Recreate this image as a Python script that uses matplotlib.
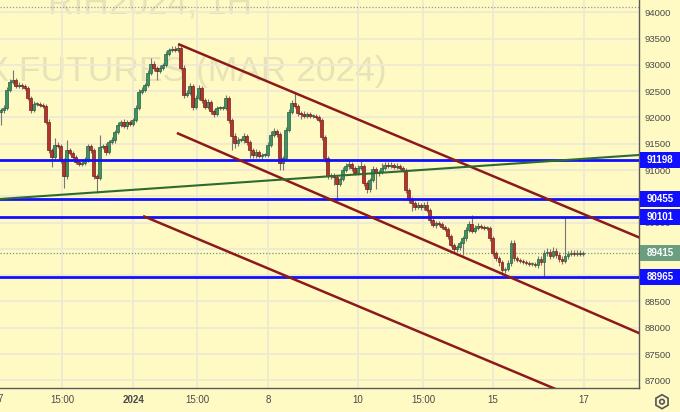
import numpy as np
import matplotlib
matplotlib.use("Agg")
import matplotlib.pyplot as plt
from matplotlib.patches import Rectangle, RegularPolygon, Circle
from matplotlib.transforms import blended_transform_factory, IdentityTransform

# hourly closes, 15 bars per trading day (Dec 27 .. Jan 16)
closes = [
    92142, 92180, 92522, 92674, 92712, 92598, 92617, 92598, 92560, 92370, 92142, 92256, 92256, 92237, 92218,
    91914, 91381, 91248, 91476, 91457, 91191, 90886, 91381, 91324, 91248, 91153, 91115, 91134, 91191, 91457,
    91381, 90886, 90848, 91438, 91457, 91343, 91533, 91571, 91723, 91857, 91914, 91838, 91914, 91876, 91952,
    92180, 92484, 92522, 92617, 92846, 93017, 92941, 92884, 92941, 92998, 93207, 93283, 93302, 93283, 93321,
    92941, 92427, 92465, 92598, 92199, 92370, 92560, 92332, 92199, 92294, 92123, 92066, 92180, 92180, 92180,
    92370, 91952, 91647, 91514, 91571, 91571, 91647, 91533, 91381, 91286, 91343, 91267, 91286, 91286, 91476,
    91666, 91742, 91685, 91134, 91229, 91761, 92104, 92275, 92218, 92085, 92066, 92028, 92066, 92028, 92028,
    92009, 91952, 91628, 91229, 90886, 90905, 90867, 90734, 90829, 91001, 91077, 91115, 91039, 90944, 91039,
    91077, 90753, 90639, 90810, 91020, 90944, 90963, 91039, 91096, 91077, 91096, 91058, 91077, 91039, 91001,
    90620, 90430, 90373, 90297, 90335, 90297, 90335, 90240, 90050, 89955, 89993, 89974, 89917, 89878, 89745,
    89574, 89498, 89536, 89612, 89707, 89859, 89974, 89840, 89897, 89935, 89917, 89897, 89897, 89707, 89422,
    89327, 89251, 89099, 89118, 89232, 89612, 89327, 89289, 89270, 89251, 89232, 89213, 89213, 89194, 89308,
    89251, 89422, 89441, 89365, 89460, 89384, 89308, 89270, 89365, 89403, 89422, 89403, 89422, 89403, 89415,
]
first_open = 92100

upper_wick = [
    40, 60, 50, 60, 200, 40, 50, 40, 30, 40, 40, 50, 30, 40, 30,
    40, 50, 40, 133, 60, 40, 40, 190, 40, 30, 40, 30, 40, 60, 40,
    40, 40, 40, 228, 40, 60, 40, 50, 40, 60, 40, 50, 40, 40, 40,
    50, 60, 60, 40, 50, 114, 60, 40, 50, 40, 60, 40, 60, 50, 76,
    40, 60, 50, 60, 40, 50, 60, 40, 40, 60, 40, 30, 40, 30, 40,
    60, 40, 40, 50, 60, 40, 50, 40, 40, 40, 50, 40, 30, 40, 60,
    80, 60, 40, 40, 40, 60, 50, 60, 209, 40, 40, 50, 40, 40, 40,
    40, 40, 40, 40, 40, 40, 40, 40, 40, 60, 60, 76, 40, 40, 60,
    114, 40, 40, 40, 60, 40, 40, 100, 60, 50, 60, 40, 60, 40, 40,
    40, 40, 60, 40, 60, 40, 60, 80, 40, 50, 40, 40, 40, 40, 40,
    40, 40, 40, 40, 40, 60, 60, 171, 60, 50, 40, 40, 40, 40, 40,
    40, 40, 40, 40, 60, 60, 60, 40, 40, 40, 30, 40, 30, 40, 60,
    60, 60, 80, 60, 70, 60, 60, 60, 742, 60, 60, 50, 60, 50, 40,
]
lower_wick = [
    243, 60, 40, 40, 40, 40, 40, 50, 40, 40, 60, 40, 40, 30, 40,
    40, 60, 190, 60, 40, 60, 228, 60, 40, 40, 40, 40, 40, 40, 40,
    60, 60, 285, 40, 40, 60, 40, 40, 60, 40, 40, 40, 60, 40, 40,
    40, 40, 40, 40, 40, 40, 60, 172, 40, 40, 40, 40, 40, 40, 40,
    40, 60, 40, 40, 57, 40, 40, 60, 40, 40, 60, 60, 40, 40, 40,
    40, 60, 266, 100, 60, 40, 60, 60, 150, 60, 60, 40, 60, 40, 40,
    40, 40, 60, 133, 133, 40, 40, 40, 40, 60, 100, 40, 40, 40, 40,
    40, 40, 60, 80, 60, 60, 150, 300, 40, 40, 40, 60, 60, 40, 40,
    40, 60, 76, 60, 40, 300, 60, 40, 40, 40, 40, 40, 40, 40, 40,
    60, 60, 150, 60, 40, 60, 60, 40, 60, 40, 60, 40, 40, 40, 60,
    40, 57, 60, 60, 228, 60, 40, 40, 40, 40, 40, 40, 40, 60, 60,
    60, 80, 95, 60, 40, 60, 60, 40, 40, 40, 40, 40, 40, 40, 60,
    60, 286, 60, 60, 40, 60, 60, 60, 40, 60, 40, 40, 40, 40, 40,
]

levels = [91198, 90455, 90101, 88965]
last_price = 89415
top_dotted = 94100

# trend lines as (bar, price) anchor pairs
channel_top = [(59.2, 93397), (212.5, 89726)]
channel_mid = [(58.8, 91704), (212.5, 87906)]
channel_low = [(47.5, 90126), (184.2, 86854)]
support_line = [(-0.2, 90449), (212.8, 91286)]

tick_bars = [20.5, 44.2, 65.5, 89.2, 119.2, 140.8, 164.2, 194.5]
tick_labels = ["15:00", "2024", "15:00", "8", "10", "15:00", "15", "17"]
price_ticks = list(range(87000, 94001, 500))
hidden_ticks = [90500, 89500, 89000]   # covered by the level boxes

bg = "#fff9c4"
grid_c = "#eeead2"
up_c, up_e = "#3f9163", "#24613f"
dn_c, dn_e = "#b2352c", "#781e18"
chan_c = "#8b1a1a"
blue = "#1010ff"
last_c = "#6b9e7e"
txt_c = "#4a4a4a"

plt.rcParams["font.family"] = ["Liberation Sans", "DejaVu Sans"]

opens = [first_open] + closes[:-1]
n = len(closes)
x = np.arange(n)
o = np.array(opens, dtype=float)
c = np.array(closes, dtype=float)
highs = np.maximum(o, c) + np.array(upper_wick)
lows = np.minimum(o, c) - np.array(lower_wick)

fig = plt.figure(figsize=(6.8, 4.12), dpi=100)
fig.patch.set_facecolor(bg)
ax = fig.add_axes([0, 24 / 412, 639 / 680, 388 / 412])
ax.set_facecolor(bg)
ax.set_xlim(-0.17, 212.8)
ax.set_ylim(86854, 94234)

ax.set_yticks(price_ticks)
ax.set_yticklabels(["" if p in hidden_ticks else str(p) for p in price_ticks])
ax.yaxis.tick_right()
ax.set_xticks(tick_bars)
ax.set_xticklabels(tick_labels)
for lab in ax.get_xticklabels():
    if lab.get_text() == "2024":
        lab.set_fontweight("bold")
ax.tick_params(axis="y", length=0, pad=4, labelsize=6.8, labelcolor=txt_c)
ax.tick_params(axis="x", length=0, pad=5, labelsize=7, labelcolor=txt_c)
ax.grid(True, color=grid_c, lw=1.3, zorder=0)
ax.set_axisbelow(True)
for s in ["left", "top"]:
    ax.spines[s].set_visible(False)
for s in ["right", "bottom"]:
    ax.spines[s].set_color("#5a5a5a")
    ax.spines[s].set_linewidth(1)

# watermark
ax.text(387 / 680, 1 - 81 / 412, "RTS INDEX FUTURES (MAR 2024)", transform=fig.transFigure,
        ha="right", va="baseline", fontsize=25.5, color="#8a8a8a", alpha=0.2, zorder=0.5)
ax.text(150 / 680, 1 - 13 / 412, "RIH2024, 1H", transform=fig.transFigure,
        ha="center", va="baseline", fontsize=25.5, color="#8a8a8a", alpha=0.2, zorder=0.5)

# candles
up = c >= o
ax.vlines(x, lows, highs, color="#767676", lw=0.8, zorder=3)
body_lo = np.minimum(o, c)
body_h = np.maximum(np.abs(c - o), 14)
ax.bar(x[up], body_h[up], bottom=body_lo[up], width=0.72, color=up_c, edgecolor=up_e, lw=0.5, zorder=4)
ax.bar(x[~up], body_h[~up], bottom=body_lo[~up], width=0.72, color=dn_c, edgecolor=dn_e, lw=0.5, zorder=4)

# horizontal lines
ax.axhline(top_dotted, color="#9a9a9a", lw=0.9, ls=(0, (1, 1.5)), zorder=2)
ax.axhline(last_price, color=last_c, lw=0.9, ls=(0, (1, 1.5)), zorder=2)
for lv in levels:
    ax.axhline(lv, color=blue, lw=2, zorder=5)


def extend(pts, x_end=230):
    (x0, y0), (x1, y1) = pts
    k = (y1 - y0) / (x1 - x0)
    return [x0, x_end], [y0, y0 + k * (x_end - x0)]


for pts in [channel_top, channel_mid, channel_low]:
    xs, ys = extend(pts)
    ax.plot(xs, ys, color=chan_c, lw=1.8, zorder=6, solid_capstyle="butt")
xs, ys = extend(support_line)
ax.plot(xs, ys, color="#2e6b2e", lw=1.5, zorder=6)

# price labels on the right scale
tr = blended_transform_factory(ax.transAxes, ax.transData)
half = 8 * (94234 - 86854) / 388
bx0 = 640 / 639
bw = 40 / 639
for lv, fc in [(l, blue) for l in levels] + [(last_price, last_c)]:
    ax.add_patch(Rectangle((bx0, lv - half), bw, 2 * half, transform=tr, facecolor=fc,
                           edgecolor="none", clip_on=False, zorder=7))
    ax.text(bx0 + bw / 2, lv, str(lv), transform=tr, ha="center", va="center", color="white",
            fontsize=7, fontweight="bold", clip_on=False, zorder=8)

# partial date label at the left edge
fig.text(0, 1 - 399 / 412, "7", ha="center", va="center", fontsize=7, color=txt_c)

# settings gear
fig.add_artist(RegularPolygon((662, 412 - 401.7), 6, radius=7, facecolor="none",
                              edgecolor="#555555", lw=1.2, transform=IdentityTransform()))
fig.add_artist(Circle((662, 412 - 401.7), 2.3, facecolor="none", edgecolor="#555555",
                      lw=1.2, transform=IdentityTransform()))

fig.savefig("out.png", dpi=100, facecolor=bg)
